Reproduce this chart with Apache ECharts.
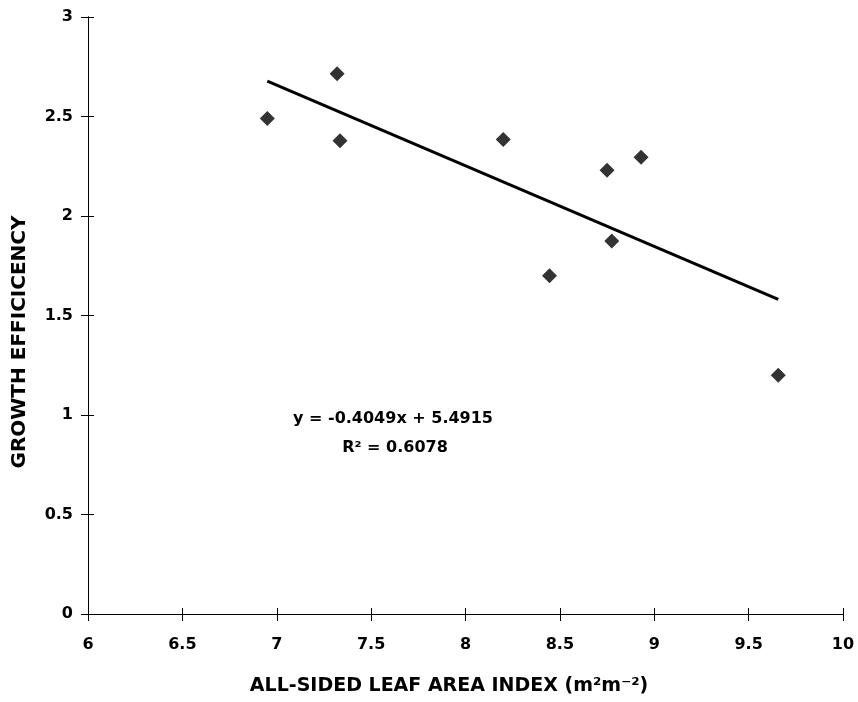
<!DOCTYPE html>
<html>
<head>
<meta charset="utf-8">
<script src="https://cdn.jsdelivr.net/npm/echarts@6/dist/echarts.min.js"></script>
<style>
html,body{margin:0;padding:0;background:#fff;}
#chart{width:858px;height:702px;}
</style>
</head>
<body>
<div id="chart"></div>
<script>
// Data
var leafAreaIndex = [6.95, 7.32, 7.335, 8.20, 8.445, 8.75, 8.93, 8.775, 9.657];
var growthEfficiency = [2.49, 2.715, 2.378, 2.385, 1.70, 2.23, 2.295, 1.875, 1.20];
var trendSlope = -0.4049;
var trendIntercept = 5.4915;
var rSquared = 0.6078;
var xTickLabels = ['6', '6.5', '7', '7.5', '8', '8.5', '9', '9.5', '10'];
var yTickLabels = ['0', '0.5', '1', '1.5', '2', '2.5', '3'];

var points = leafAreaIndex.map(function (x, i) { return [x, growthEfficiency[i]]; });
var xMin = Math.min.apply(null, leafAreaIndex);
var xMax = Math.max.apply(null, leafAreaIndex);
var trendLine = [[xMin, trendSlope * xMin + trendIntercept], [xMax, trendSlope * xMax + trendIntercept]];

var FONT = 'DejaVu Sans';
var chart = echarts.init(document.getElementById('chart'), null, {renderer: 'canvas'});

chart.setOption({
  animation: false,
  backgroundColor: '#fff',
  grid: [{left: 88, right: 15, top: 17, bottom: 88, containLabel: false}],
  xAxis: [
    {
      show: true, gridIndex: 0,
      type: 'value', min: 6, max: 10, interval: 0.5, position: 'bottom',
      axisLine: {show: true, onZero: false, lineStyle: {color: '#000', width: 1}},
      splitLine: {show: false},
      axisTick: {show: true, inside: false, length: 7, lineStyle: {color: '#000'}},
      axisLabel: {
        show: true, margin: 23, color: '#000', fontFamily: FONT, fontWeight: 'bold', fontSize: 16,
        formatter: function (v) { var s = String(v); return xTickLabels.indexOf(s) >= 0 ? s : ''; }
      }
    },
    {
      show: true, gridIndex: 0, z: 10,
      type: 'value', min: 6, max: 10, interval: 0.5, position: 'bottom',
      axisLine: {show: true, onZero: false, lineStyle: {color: '#000', width: 1}},
      splitLine: {show: false},
      axisTick: {show: true, inside: true, length: 6, lineStyle: {color: '#000', width: 1}},
      axisLabel: {show: false}
    }
  ],
  yAxis: [
    {
      show: true, gridIndex: 0,
      type: 'value', min: 0, max: 3, interval: 0.5, position: 'left',
      axisLine: {show: true, onZero: false, lineStyle: {color: '#000', width: 1}},
      splitLine: {show: false},
      axisTick: {show: true, inside: false, length: 7, lineStyle: {color: '#000'}},
      axisLabel: {
        show: true, margin: 15, color: '#000', fontFamily: FONT, fontWeight: 'bold', fontSize: 16,
        formatter: function (v) { var s = String(v); return yTickLabels.indexOf(s) >= 0 ? s : ''; }
      }
    },
    {
      show: true, gridIndex: 0, z: 10,
      type: 'value', min: 0, max: 3, interval: 0.5, position: 'left',
      axisLine: {show: true, onZero: false, lineStyle: {color: '#000', width: 1}},
      splitLine: {show: false},
      axisTick: {show: true, inside: true, length: 6, lineStyle: {color: '#000', width: 1}},
      axisLabel: {show: false}
    }
  ],
  series: [
    {
      name: 'Trend', type: 'line', data: trendLine, xAxisIndex: 1, yAxisIndex: 1,
      showSymbol: false, symbol: 'none',
      lineStyle: {color: '#000', width: 3},
      z: 2
    },
    {
      name: 'Growth efficiency', type: 'scatter', data: points, xAxisIndex: 0, yAxisIndex: 0,
      symbol: 'diamond', symbolSize: [15, 15],
      itemStyle: {color: '#000'},
      z: 3
    }
  ],
  graphic: [
    {
      type: 'text', x: 449, y: 686,
      style: {
        text: 'ALL-SIDED LEAF AREA INDEX (m\u00B2m\u207B\u00B2)',
        fontFamily: FONT, fontWeight: 'bold', fontSize: 19, fill: '#000',
        align: 'center', verticalAlign: 'middle'
      }
    },
    {
      type: 'text', x: 20, y: 342, rotation: Math.PI / 2,
      style: {
        text: 'GROWTH EFFICICENCY',
        fontFamily: FONT, fontWeight: 'bold', fontSize: 20, fill: '#000',
        align: 'center', verticalAlign: 'middle'
      }
    },
    {
      type: 'text', x: 393, y: 419,
      style: {
        text: 'y = ' + trendSlope + 'x + ' + trendIntercept,
        fontFamily: FONT, fontWeight: 'bold', fontSize: 16, fill: '#000',
        align: 'center', verticalAlign: 'middle'
      }
    },
    {
      type: 'text', x: 395, y: 448,
      style: {
        text: 'R\u00B2 = ' + rSquared,
        fontFamily: FONT, fontWeight: 'bold', fontSize: 16, fill: '#000',
        align: 'center', verticalAlign: 'middle'
      }
    }
  ]
});
</script>
</body>
</html>
